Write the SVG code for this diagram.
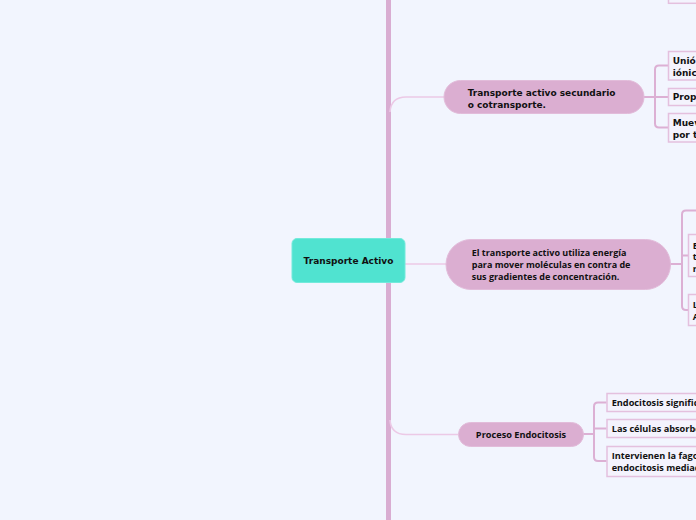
<svg xmlns="http://www.w3.org/2000/svg" width="696" height="520" viewBox="0 0 696 520">
<style>
.bg{fill:#f2f5fe}
.bar{fill:#d9add2}
.curve{fill:none;stroke:#ecc9e6;stroke-width:1.6}
.br{fill:none;stroke:#dcb0d4;stroke-width:2}
.pill{fill:#dbaed1;stroke:#e2bcda;stroke-width:1}
.box{fill:#f4f3fd;stroke:#e4c0de;stroke-width:1.5}
.tv{font-family:"DejaVu Sans",Verdana,sans-serif;font-weight:bold;font-size:9px;fill:#111}
.to{font-family:"Open Sans","Noto Sans",sans-serif;font-weight:bold;font-size:9.2px;fill:#111}
.te{font-size:9px}
</style>
<rect class="bg" x="0" y="0" width="696" height="520"/>
<g id="connectors">
<rect class="bar" x="386" y="0" width="5" height="520"/>
<path class="curve" d="M390 112 Q391 97 406 97 L444 97"/>
<path class="curve" d="M390 420 Q391 434.5 406 434.5 L458 434.5"/>
<path class="curve" d="M405 264 L446 264"/>
<path class="br" d="M644 97 L668 97 M668 65.5 L659 65.5 Q655 65.5 655 69.5 L655 123.5 Q655 127.5 659 127.5 L668 127.5"/>
<path class="br" d="M670 264 L682 264 M696 210.5 L686 210.5 Q682 210.5 682 214.5 L682 306 Q682 310 686 310 L688 310 M682 255.5 L688 255.5"/>
<path class="br" d="M583 434 L594 434 M606.5 402.5 L598 402.5 Q594 402.5 594 406.5 L594 457 Q594 461 598 461 L606.5 461 M594 428.5 L606.5 428.5"/>
</g>
<g id="top-child">
<rect class="box" x="668.5" y="-10" width="40" height="13.3"/>
</g>
<g id="central">
<rect x="292" y="238.5" width="113" height="44" rx="5" fill="#50e3d0" stroke="#73eadb" stroke-width="1"/>
<text class="tv" x="348.5" y="264.3" text-anchor="middle">Transporte Activo</text>
</g>
<g id="secundario">
<rect class="pill" x="444" y="80.5" width="200" height="33" rx="16.5"/>
<text class="tv" x="467.7" y="95.5">Transporte activo secundario</text>
<text class="tv" x="467.7" y="107.5">o cotransporte.</text>
</g>
<g id="sec-child1">
<rect class="box" x="668.5" y="51.5" width="40" height="28.5"/>
<text class="tv" x="672.7" y="64">Unió</text>
<text class="tv" x="672.7" y="75.5">iónic</text>
</g>
<g id="sec-child2">
<rect class="box" x="668.5" y="88.5" width="40" height="17"/>
<text class="tv" x="672.7" y="100.3">Prop</text>
</g>
<g id="sec-child3">
<rect class="box" x="668.5" y="113.5" width="40" height="28.5"/>
<text class="tv" x="672.7" y="126">Muev</text>
<text class="tv" x="672.7" y="137.5">por t</text>
</g>
<g id="energia">
<rect class="pill" x="446" y="239.5" width="224.5" height="50" rx="25"/>
<text class="to te" x="471.7" y="255.5">El transporte activo utiliza energía</text>
<text class="to te" x="471.7" y="267.5">para mover moléculas en contra de</text>
<text class="to te" x="471.7" y="279.5">sus gradientes de concentración.</text>
</g>
<g id="energia-child1">
<rect class="box" x="688.5" y="234.5" width="20" height="42"/>
<text class="to" x="692.7" y="248.5">E</text>
<text class="to" x="692.7" y="260">t</text>
<text class="to" x="692.7" y="271.5">r</text>
</g>
<g id="energia-child2">
<rect class="box" x="688.5" y="294.5" width="20" height="31"/>
<text class="to" x="692.7" y="308">L</text>
<text class="to" x="692.7" y="320">A</text>
</g>
<g id="endocitosis">
<rect class="pill" x="458.5" y="422.5" width="125" height="24" rx="12"/>
<text class="to" x="521" y="437.5" text-anchor="middle">Proceso Endocitosis</text>
</g>
<g id="endo-child1">
<rect class="box" x="607" y="393.5" width="100" height="18"/>
<text class="to" x="611.7" y="405.8">Endocitosis signific</text>
</g>
<g id="endo-child2">
<rect class="box" x="607" y="419.5" width="100" height="18"/>
<text class="to" x="611.7" y="431.6">Las células absorbe</text>
</g>
<g id="endo-child3">
<rect class="box" x="607" y="446.5" width="100" height="30"/>
<text class="to" x="611.7" y="459">Intervienen la fago</text>
<text class="to" x="611.7" y="470.8">endocitosis mediac</text>
</g>
</svg>
